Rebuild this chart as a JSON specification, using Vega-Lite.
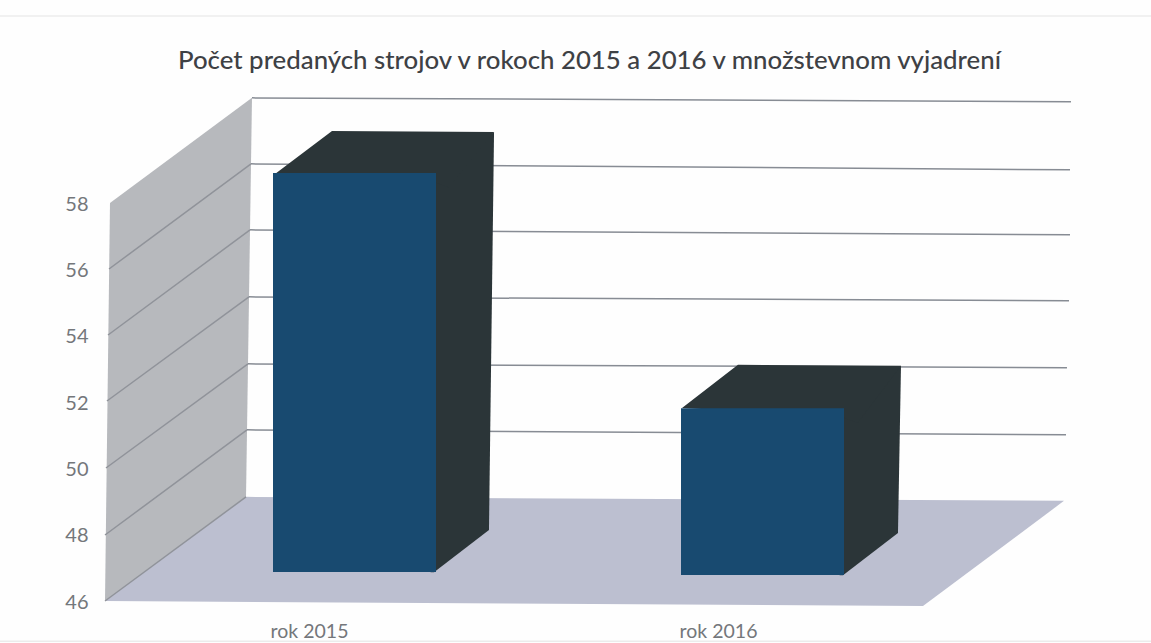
{"$schema":"https://vega.github.io/schema/vega-lite/v6.json","width":818,"height":398,"autosize":{"type":"none"},"padding":{"left":105,"top":204,"right":228,"bottom":41},"background":"#fefefe","title":{"text":"Počet predaných strojov v rokoch 2015 a 2016 v množstevnom vyjadrení","anchor":"start","dx":181,"offset":-62,"font":"Lato","fontSize":25.8,"fontWeight":500,"color":"#3e4145"},"config":{"view":{"stroke":null}},"datasets":{"bars":[{"rok":"rok 2015","value":58},{"rok":"rok 2016","value":51}],"back":[{"part":"wall","corner":1,"pos":0.61,"level":58.03},{"part":"wall","corner":2,"pos":17.97,"level":61.2},{"part":"wall","corner":3,"pos":17.24,"level":49.17},{"part":"wall","corner":4,"pos":0,"level":46.03},{"part":"floor","corner":1,"pos":0,"level":46.03},{"part":"floor","corner":2,"pos":17.24,"level":49.17},{"part":"floor","corner":3,"pos":117.24,"level":49.05},{"part":"floor","corner":4,"pos":100,"level":45.88}],"lines":[{"line":"g0","kind":"grid","corner":1,"pos":17.97,"level":61.2},{"line":"g0","kind":"grid","corner":2,"pos":118.09,"level":61.08},{"line":"g1","kind":"grid","corner":1,"pos":17.85,"level":59.21},{"line":"g1","kind":"grid","corner":2,"pos":117.97,"level":59.03},{"line":"g2","kind":"grid","corner":1,"pos":17.73,"level":57.22},{"line":"g2","kind":"grid","corner":2,"pos":117.97,"level":57.07},{"line":"g3","kind":"grid","corner":1,"pos":17.6,"level":55.2},{"line":"g3","kind":"grid","corner":2,"pos":117.85,"level":55.08},{"line":"g4","kind":"grid","corner":1,"pos":17.48,"level":53.18},{"line":"g4","kind":"grid","corner":2,"pos":117.6,"level":53.06},{"line":"g5","kind":"grid","corner":1,"pos":17.36,"level":51.19},{"line":"g5","kind":"grid","corner":2,"pos":117.48,"level":51.04},{"line":"d1","kind":"diag","corner":1,"pos":0.49,"level":56.04},{"line":"d1","kind":"diag","corner":2,"pos":17.85,"level":59.21},{"line":"d2","kind":"diag","corner":1,"pos":0.37,"level":54.05},{"line":"d2","kind":"diag","corner":2,"pos":17.73,"level":57.22},{"line":"d3","kind":"diag","corner":1,"pos":0.24,"level":52.06},{"line":"d3","kind":"diag","corner":2,"pos":17.6,"level":55.2},{"line":"d4","kind":"diag","corner":1,"pos":0.12,"level":50.04},{"line":"d4","kind":"diag","corner":2,"pos":17.48,"level":53.18},{"line":"d5","kind":"diag","corner":1,"pos":0,"level":48.02},{"line":"d5","kind":"diag","corner":2,"pos":17.36,"level":51.19},{"line":"d6","kind":"diag","corner":1,"pos":0,"level":46.03},{"line":"d6","kind":"diag","corner":2,"pos":17.24,"level":49.17},{"line":"f1","kind":"frame","corner":1,"pos":-12.84,"level":63.67},{"line":"f1","kind":"frame","corner":2,"pos":127.87,"level":63.67},{"line":"f2","kind":"frame","corner":1,"pos":-12.84,"level":44.82},{"line":"f2","kind":"frame","corner":2,"pos":127.87,"level":44.82}],"faces":[{"part":"side15","corner":1,"pos":39.8,"level":58.7},{"part":"side15","corner":2,"pos":40.83,"level":58.93},{"part":"side15","corner":3,"pos":47.56,"level":60.17},{"part":"side15","corner":4,"pos":46.94,"level":48.17},{"part":"side15","corner":5,"pos":40.22,"level":46.9},{"part":"side15","corner":6,"pos":39.8,"level":46.9},{"part":"top15","corner":1,"pos":20.9,"level":58.93},{"part":"top15","corner":2,"pos":27.75,"level":60.2},{"part":"top15","corner":3,"pos":47.56,"level":60.17},{"part":"top15","corner":4,"pos":42,"level":58.5},{"part":"top15","corner":5,"pos":39.8,"level":58.7},{"part":"side16","corner":1,"pos":89.8,"level":51.6},{"part":"side16","corner":2,"pos":90.34,"level":51.85},{"part":"side16","corner":3,"pos":97.31,"level":53.12},{"part":"side16","corner":4,"pos":96.94,"level":48.08},{"part":"side16","corner":5,"pos":90.22,"level":46.81},{"part":"side16","corner":6,"pos":89.8,"level":46.81},{"part":"top16","corner":1,"pos":70.54,"level":51.85},{"part":"top16","corner":2,"pos":77.38,"level":53.15},{"part":"top16","corner":3,"pos":97.31,"level":53.12},{"part":"top16","corner":4,"pos":92,"level":51.4},{"part":"top16","corner":5,"pos":89.8,"level":51.6}]},"layer":[{"data":{"name":"back"},"mark":{"type":"line","strokeWidth":0,"clip":false},"encoding":{"x":{"field":"pos","type":"quantitative","scale":{"domain":[0,100]},"axis":null},"y":{"field":"level","type":"quantitative","scale":{"domain":[46,58]},"axis":{"values":[46,48,50,52,54,56,58],"title":null,"grid":false,"domain":false,"ticks":false,"labelPadding":17,"labelFont":"Lato","labelFontSize":20,"labelColor":"#74777b"}},"fill":{"field":"part","type":"nominal","scale":{"domain":["wall","floor"],"range":["#b7b9bd","#bcbfd0"]},"legend":null},"order":{"field":"corner","type":"ordinal"}}},{"data":{"name":"lines"},"mark":{"type":"line","clip":false,"strokeWidth":1.5},"encoding":{"x":{"field":"pos","type":"quantitative","scale":{"domain":[0,100]},"axis":null},"y":{"field":"level","type":"quantitative"},"color":{"field":"kind","type":"nominal","scale":{"domain":["grid","diag","frame"],"range":["#878c94","#90939a","#ececec"]},"legend":null},"detail":{"field":"line"},"order":{"field":"corner","type":"ordinal"}}},{"data":{"name":"faces"},"mark":{"type":"line","strokeWidth":0,"clip":false},"encoding":{"x":{"field":"pos","type":"quantitative","scale":{"domain":[0,100]},"axis":null},"y":{"field":"level","type":"quantitative"},"fill":{"field":"part","type":"nominal","scale":{"domain":["side15","top15","side16","top16"],"range":["#2b3538","#2b3538","#2b3538","#2b3538"]},"legend":null},"order":{"field":"corner","type":"ordinal"}}},{"data":{"name":"bars"},"transform":[{"filter":"datum.rok === 'rok 2015'"}],"mark":{"type":"bar","size":163,"xOffset":45,"yOffset":-31,"y2Offset":-30,"color":"#184a70"},"encoding":{"x":{"field":"rok","type":"nominal","scale":{"domain":["rok 2015","rok 2016"]},"axis":{"title":null,"domain":false,"ticks":false,"labelAngle":0,"labelPadding":20,"labelFont":"Lato","labelFontSize":19.5,"labelColor":"#74777b"}},"y":{"field":"value","type":"quantitative"},"y2":{"datum":46}}},{"data":{"name":"bars"},"transform":[{"filter":"datum.rok === 'rok 2016'"}],"mark":{"type":"bar","size":163,"xOffset":44,"yOffset":-28,"y2Offset":-27,"color":"#184a70"},"encoding":{"x":{"field":"rok","type":"nominal","scale":{"domain":["rok 2015","rok 2016"]},"axis":null},"y":{"field":"value","type":"quantitative"},"y2":{"datum":46}}}],"resolve":{"scale":{"x":"independent","fill":"independent","color":"independent"}}}
